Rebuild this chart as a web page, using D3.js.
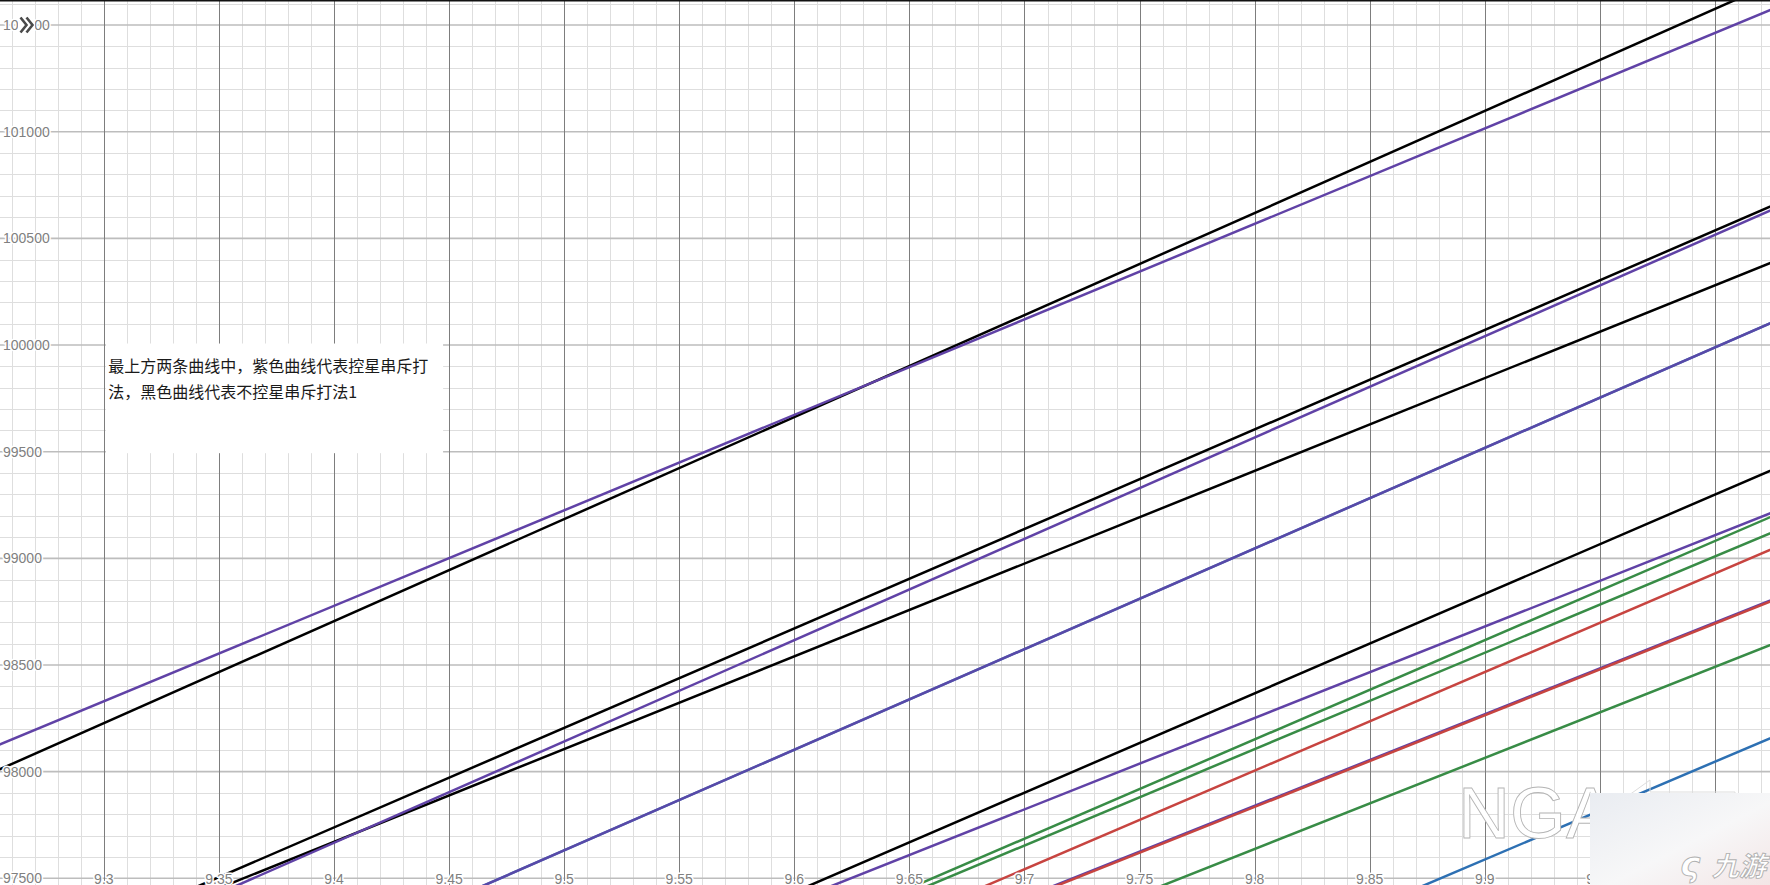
<!DOCTYPE html>
<html>
<head>
<meta charset="utf-8">
<script src="https://cdn.jsdelivr.net/npm/d3@7"></script>
<style>
  html, body { margin: 0; padding: 0; background: #fff; overflow: hidden; }
  svg { display: block; }
</style>
</head>
<body>
<svg id="chart" width="1770" height="885"></svg>
<script>
// ---------- data ----------
const xEnds = [9.25, 10.05];             // x where each straight line's two values were read

const purpleA = [98106, 101687];
const blackA  = [97988, 101815];
const blackB  = [97039, 100770];
const purpleB = [96954, 100754];
const blackC  = [97019, 100497];
const blueC   = [96452, 100225];
const purpleC = [96452, 100225];
const blackD  = [95805, 99532];
const purpleD = [95895, 99323];
const greenA  = [95593, 99314];
const greenB  = [95621, 99235];
const redA    = [95463, 99160];
const purpleE = [95476, 98914];
const redB    = [95471, 98909];
const greenC  = [95288, 98705];
const blueA   = [94607, 98276];

const xTickLabels = [9.3, 9.35, 9.4, 9.45, 9.5, 9.55, 9.6, 9.65, 9.7, 9.75, 9.8, 9.85, 9.9, 9.95];
const yTickLabels = [97500, 98000, 98500, 99000, 99500, 100000, 100500, 101000, 101500];

const noteLines = ["最上方两条曲线中，紫色曲线代表控星串斥打", "法，黑色曲线代表不控星串斥打法1"];
const noteBox = { x: [9.3, 9.45], y: [100000, 99500] };

// ---------- setup ----------
const W = 1770, H = 885;
const svg = d3.select("#chart");
const x = d3.scaleLinear().domain([9.25488, 10.02391]).range([0, W]);
const y = d3.scaleLinear().domain([97468.6, 101617.5]).range([H, 0]);

const COL = { black: "#000000", purple: "#6042a6", green: "#388c46", red: "#c74440", blue: "#2d70b3" };

const series = [
  { v: blackA,  c: COL.black },
  { v: purpleA, c: COL.purple },
  { v: blackB,  c: COL.black },
  { v: blackC,  c: COL.black },
  { v: purpleB, c: COL.purple },
  { v: blueC,   c: COL.blue },
  { v: purpleC, c: COL.purple, o: 0.85 },
  { v: blackD,  c: COL.black },
  { v: purpleD, c: COL.purple },
  { v: greenA,  c: COL.green },
  { v: greenB,  c: COL.green },
  { v: redA,    c: COL.red },
  { v: purpleE, c: COL.purple },
  { v: redB,    c: COL.red },
  { v: greenC,  c: COL.green },
  { v: blueA,   c: COL.blue }
];

// ---------- grid ----------
const [x0, x1] = x.domain(), [y0, y1] = y.domain();
const xMinor = d3.range(Math.ceil(x0 * 100), Math.floor(x1 * 100) + 1).map(d => d / 100);
const yMinor = d3.range(Math.ceil(y0 / 100), Math.floor(y1 / 100) + 1).map(d => d * 100);
const isMajX = d => Math.abs(Math.round(d * 100) % 5) === 0;
const isMajY = d => Math.round(d) % 500 === 0;

const grid = svg.append("g");
grid.selectAll("line.vmin").data(xMinor.filter(d => !isMajX(d))).join("line")
  .attr("x1", d => Math.round(x(d)) + 0.5).attr("x2", d => Math.round(x(d)) + 0.5)
  .attr("y1", 0).attr("y2", H).attr("stroke", "#dedede").attr("stroke-width", 1);
grid.selectAll("line.hmin").data(yMinor.filter(d => !isMajY(d))).join("line")
  .attr("y1", d => Math.round(y(d)) + 0.5).attr("y2", d => Math.round(y(d)) + 0.5)
  .attr("x1", 0).attr("x2", W).attr("stroke", "#dedede").attr("stroke-width", 1);
grid.selectAll("line.hmaj").data(yMinor.filter(isMajY)).join("line")
  .attr("y1", d => y(d)).attr("y2", d => y(d))
  .attr("x1", 0).attr("x2", W).attr("stroke", "#bdbdbd").attr("stroke-width", 1.6);
grid.selectAll("line.vmaj").data(xMinor.filter(isMajX)).join("line")
  .attr("x1", d => Math.round(x(d)) + 0.5).attr("x2", d => Math.round(x(d)) + 0.5)
  .attr("y1", 0).attr("y2", H).attr("stroke", "#7d7d7d").attr("stroke-width", 1);

// ---------- lines ----------
svg.append("clipPath").attr("id", "clip").append("rect").attr("width", W).attr("height", H);
const lineGen = d3.line().x(d => x(d[0])).y(d => y(d[1]));
svg.append("g").attr("clip-path", "url(#clip)")
  .selectAll("path").data(series).join("path")
  .attr("d", s => lineGen(xEnds.map((xv, i) => [xv, s.v[i]])))
  .attr("fill", "none").attr("stroke", s => s.c)
  .attr("stroke-opacity", s => s.o || 1)
  .attr("stroke-width", 2.5).attr("stroke-linecap", "round");

// ---------- tick labels ----------
const labelStyle = sel => sel
  .attr("font-family", "'Liberation Sans', Arial, sans-serif")
  .attr("font-size", 14).attr("fill", "#808080")
  .attr("stroke", "#fff").attr("stroke-width", 3).attr("paint-order", "stroke")
  .attr("stroke-linejoin", "round");

svg.append("g").selectAll("text").data(yTickLabels).join("text")
  .attr("x", 3).attr("y", d => y(d) + 5).text(d => d).call(labelStyle);
svg.append("g").selectAll("text").data(xTickLabels).join("text")
  .attr("x", d => x(d)).attr("y", H - 1.5).attr("text-anchor", "middle")
  .text(d => String(d)).call(labelStyle);

// ---------- note ----------
const nb = svg.append("g");
nb.append("rect")
  .attr("x", x(noteBox.x[0]) + 2).attr("y", y(noteBox.y[0]) - 1.5)
  .attr("width", x(noteBox.x[1]) - x(noteBox.x[0]) - 8)
  .attr("height", y(noteBox.y[1]) - y(noteBox.y[0]) + 3)
  .attr("fill", "#fff");
nb.selectAll("text").data(noteLines).join("text")
  .attr("x", x(noteBox.x[0]) + 4.5)
  .attr("y", (d, i) => y(noteBox.y[0]) + 26.5 + i * 26.6)
  .attr("font-family", "'Noto Sans CJK SC', 'Noto Sans', sans-serif")
  .attr("font-size", 16).attr("fill", "#1a1a1a").text(d => d);

// ---------- top border + expand icon ----------
svg.append("rect").attr("x", 0).attr("y", 0).attr("width", W).attr("height", 1.5).attr("fill", "#111");
svg.append("rect").attr("x", 18).attr("y", 14).attr("width", 17).attr("height", 22).attr("fill", "#fff");
const chev = svg.append("g").attr("fill", "none").attr("stroke", "#4a4a4a")
  .attr("stroke-width", 2.6).attr("stroke-linejoin", "miter");
chev.append("path").attr("d", "M20.5,17.5 L26.5,25 L20.5,32.5");
chev.append("path").attr("d", "M26.5,17.5 L32.5,25 L26.5,32.5");

// ---------- watermark ----------
const wm = svg.append("g");
wm.append("text").attr("x", 1458).attr("y", 838)
  .attr("font-family", "'Liberation Sans', Arial, sans-serif").attr("font-size", 72)
  .attr("fill", "#fff").attr("stroke", "#b5b5b5").attr("stroke-width", 0.9).text("NGA");
wm.append("path").attr("d", "M1625,798 L1650,780 L1650,792 L1735,792 L1735,798")
  .attr("fill", "none").attr("stroke", "#ddd").attr("stroke-width", 1);
const grad = svg.append("defs").append("linearGradient").attr("id", "wmg")
  .attr("x1", 0).attr("y1", 0).attr("x2", 1).attr("y2", 1);
grad.append("stop").attr("offset", "0%").attr("stop-color", "#e9ecf1");
grad.append("stop").attr("offset", "55%").attr("stop-color", "#f7f7f8");
grad.append("stop").attr("offset", "100%").attr("stop-color", "#f3e6e6");
wm.append("rect").attr("x", 1590).attr("y", 793).attr("width", 180).attr("height", 92)
  .attr("fill", "url(#wmg)");
wm.append("text").attr("x", 1680).attr("y", 876)
  .attr("font-family", "'DejaVu Sans', sans-serif").attr("font-size", 34).attr("font-style", "italic")
  .attr("font-weight", "bold").attr("fill", "#fff").attr("stroke", "#b0b0b0").attr("stroke-width", 0.9)
  .text("ς");
wm.append("text").attr("x", 1712).attr("y", 876)
  .attr("font-family", "'Noto Sans CJK SC', sans-serif").attr("font-size", 27)
  .attr("font-weight", "bold").attr("font-style", "italic")
  .attr("fill", "#fff").attr("stroke", "#b0b0b0").attr("stroke-width", 0.9).text("九游");
</script>
</body>
</html>
